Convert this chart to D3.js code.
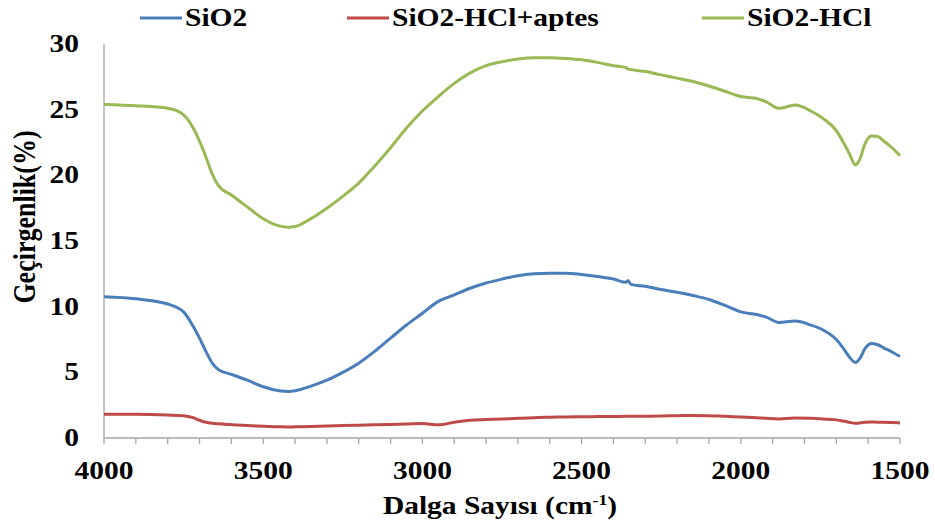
<!DOCTYPE html>
<html>
<head>
<meta charset="utf-8">
<script src="https://cdn.jsdelivr.net/npm/d3@7"></script>
<style>
  body { margin: 0; background: #fff; }
</style>
</head>
<body>
<svg id="chart" width="935" height="530"></svg>
<script>
// FTIR transmittance spectra
const waves = [4000, 3900, 3800, 3750, 3720, 3700, 3680, 3660, 3640, 3600, 3550, 3500, 3450, 3420, 3400,
  3350, 3300, 3250, 3200, 3150, 3100, 3050, 3000, 2950, 2900, 2850, 2800, 2750, 2700, 2650, 2600, 2550,
  2500, 2450, 2400, 2360, 2355, 2345, 2300, 2250, 2200, 2150, 2100, 2050, 2000, 1950, 1920, 1880, 1830,
  1780, 1740, 1700, 1680, 1660, 1640, 1625, 1610, 1590, 1570, 1550, 1525, 1500];

const sio2 = [10.75, 10.6, 10.2, 9.6, 8.5, 7.6, 6.6, 5.7, 5.2, 4.85, 4.4, 3.9, 3.6, 3.55, 3.6,
  3.95, 4.4, 5.0, 5.7, 6.6, 7.6, 8.6, 9.5, 10.4, 10.9, 11.4, 11.8, 12.1, 12.35, 12.5, 12.55, 12.55,
  12.45, 12.3, 12.1, 11.85, 12.0, 11.7, 11.55, 11.3, 11.1, 10.85, 10.55, 10.1, 9.6, 9.4, 9.2, 8.8, 8.9,
  8.6, 8.2, 7.5, 6.9, 6.2, 5.75, 6.1, 6.8, 7.2, 7.1, 6.85, 6.55, 6.2];

const sio2HclAptes = [1.8, 1.8, 1.75, 1.7, 1.55, 1.35, 1.2, 1.12, 1.08, 1.02, 0.95, 0.9, 0.85, 0.84, 0.85,
  0.88, 0.92, 0.95, 0.98, 1.0, 1.03, 1.06, 1.1, 1.0, 1.2, 1.35, 1.4, 1.45, 1.5, 1.55, 1.58, 1.6,
  1.62, 1.63, 1.64, 1.65, 1.65, 1.65, 1.66, 1.68, 1.7, 1.72, 1.7, 1.65, 1.6, 1.55, 1.5, 1.45, 1.52,
  1.5, 1.45, 1.38, 1.3, 1.2, 1.12, 1.15, 1.2, 1.22, 1.2, 1.2, 1.18, 1.15];

const sio2Hcl = [25.4, 25.3, 25.1, 24.6, 23.6, 22.6, 21.4, 20.1, 19.2, 18.5, 17.6, 16.7, 16.15, 16.05, 16.1,
  16.7, 17.5, 18.4, 19.4, 20.7, 22.1, 23.6, 24.9, 26.0, 27.0, 27.8, 28.35, 28.65, 28.85, 28.95, 28.95, 28.9,
  28.8, 28.6, 28.35, 28.2, 28.1, 28.05, 27.9, 27.65, 27.4, 27.15, 26.8, 26.4, 26.0, 25.85, 25.6, 25.1, 25.35,
  24.9, 24.3, 23.4, 22.6, 21.7, 20.8, 21.3, 22.4, 23.0, 22.95, 22.6, 22.1, 21.5];

const seriesNames = ["SiO2", "SiO2-HCl+aptes", "SiO2-HCl"];
const seriesColors = ["#4a7ebb", "#be4b48", "#98b954"];
const seriesValues = [sio2, sio2HclAptes, sio2Hcl];

const xTicks = [4000, 3500, 3000, 2500, 2000, 1500];
const yTicks = [0, 5, 10, 15, 20, 25, 30];

const FONT = "'Liberation Serif', Tinos, 'Times New Roman', 'DejaVu Serif', serif";

const svg = d3.select("#chart");
const x = d3.scaleLinear().domain([4000, 1500]).range([104, 900]);
const y = d3.scaleLinear().domain([0, 30]).range([438, 44]);
const stretch = 1.18;   // the reference text is drawn a bit wide

function label(g, px, py, str, anchor, size) {
  return g.append("text")
    .attr("transform", `translate(${px},${py}) scale(${stretch},1)`)
    .attr("text-anchor", anchor)
    .attr("font-family", FONT)
    .attr("font-weight", "bold")
    .attr("font-size", size)
    .text(str);
}

// axes lines
svg.append("line").attr("x1", x(4000)).attr("x2", x(4000)).attr("y1", y(30)).attr("y2", y(0))
  .attr("stroke", "#a6a6a6").attr("stroke-width", 1.3);
svg.append("line").attr("x1", x(4000)).attr("x2", x(1500)).attr("y1", y(0)).attr("y2", y(0))
  .attr("stroke", "#a6a6a6").attr("stroke-width", 1.3);

// minor tick marks every 100 cm-1
svg.append("g").selectAll("line").data(d3.range(4000, 1499, -100)).join("line")
  .attr("x1", d => x(d)).attr("x2", d => x(d))
  .attr("y1", y(0)).attr("y2", y(0) + 6)
  .attr("stroke", "#a6a6a6").attr("stroke-width", 1.3);

const tickG = svg.append("g");
xTicks.forEach(t => label(tickG, x(t), 479, t, "middle", 25));
yTicks.forEach(t => label(tickG, 79, y(t) + 8, t, "end", 25));

// axis titles
const xt = label(svg, 500, 514, "", "middle", 25);
xt.append("tspan").text("Dalga Sayısı (cm");
xt.append("tspan").attr("font-size", 15).attr("dy", -9).text("-1");
xt.append("tspan").attr("dy", 9).text(")");

svg.append("text")
  .attr("transform", `translate(35,217) scale(${stretch},1) rotate(-90)`)
  .attr("text-anchor", "middle")
  .attr("font-family", FONT)
  .attr("font-weight", "bold")
  .attr("font-size", 26)
  .text("Geçirgenlik(%)");

// spectra
const line = d3.line()
  .x(d => x(d[0]))
  .y(d => y(d[1]))
  .curve(d3.curveMonotoneX);

svg.append("g").selectAll("path").data(seriesValues).join("path")
  .attr("d", vals => line(waves.map((w, i) => [w, vals[i]])))
  .attr("fill", "none")
  .attr("stroke", (d, i) => seriesColors[i])
  .attr("stroke-width", 3)
  .attr("stroke-linejoin", "round");

// legend
const legendX = [140, 347, 702];
const leg = svg.append("g");
seriesNames.forEach((name, i) => {
  leg.append("line")
    .attr("x1", legendX[i]).attr("x2", legendX[i] + 42)
    .attr("y1", 18).attr("y2", 18)
    .attr("stroke", seriesColors[i]).attr("stroke-width", 3);
  label(leg, legendX[i] + 45, 26, name, "start", 25);
});
</script>
</body>
</html>
